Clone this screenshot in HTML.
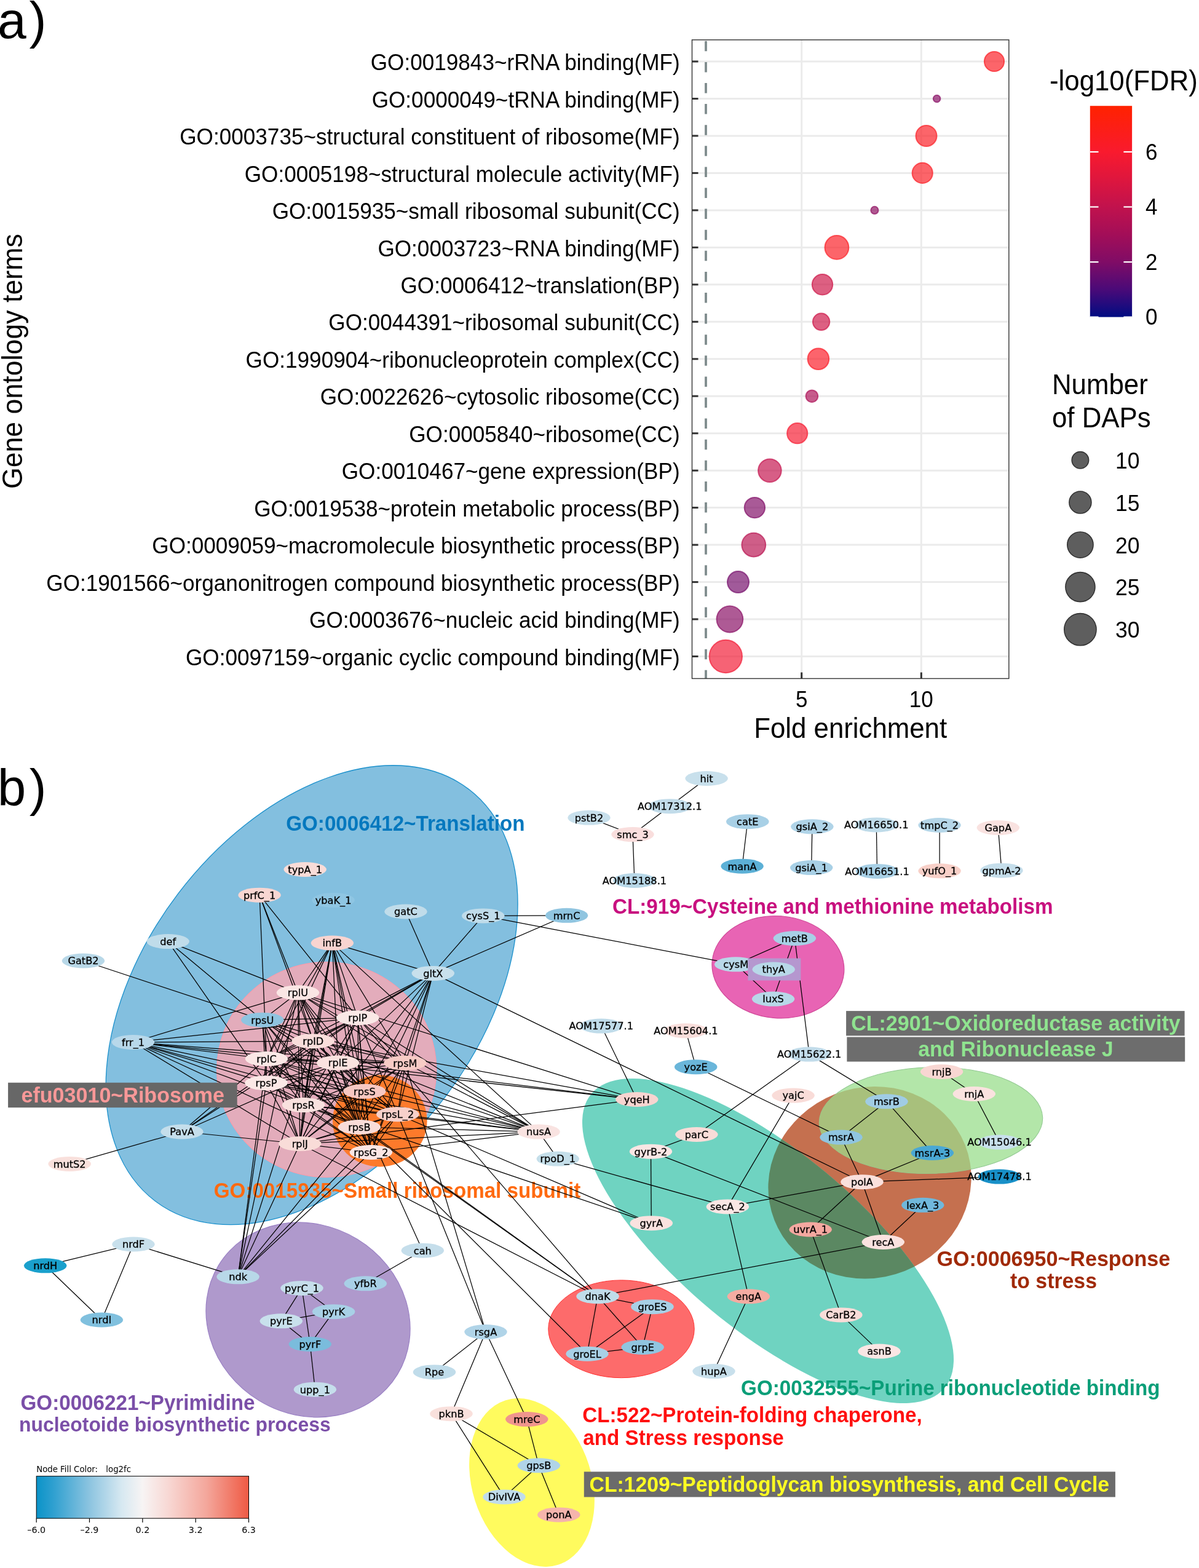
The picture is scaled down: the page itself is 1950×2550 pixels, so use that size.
<!DOCTYPE html>
<html><head><meta charset="utf-8"><title>Figure</title>
<style>html,body{margin:0;padding:0;background:#fff;} svg{display:block;}</style></head>
<body><svg xmlns="http://www.w3.org/2000/svg" width="1950" height="2550" viewBox="0 0 1950 2550">
<rect width="1950" height="2550" fill="#fff"/>
<text x="-4" y="61.7" font-size="84" letter-spacing="4.8" font-family="'Liberation Sans', Arial, sans-serif">a)</text>
<rect x="1125.5" y="64.8" width="515.3" height="1038.7" fill="#fff"/>
<line x1="1125.5" y1="100.0" x2="1640.8" y2="100.0" stroke="#ebebeb" stroke-width="3"/>
<line x1="1125.5" y1="160.5" x2="1640.8" y2="160.5" stroke="#ebebeb" stroke-width="3"/>
<line x1="1125.5" y1="220.9" x2="1640.8" y2="220.9" stroke="#ebebeb" stroke-width="3"/>
<line x1="1125.5" y1="281.4" x2="1640.8" y2="281.4" stroke="#ebebeb" stroke-width="3"/>
<line x1="1125.5" y1="341.9" x2="1640.8" y2="341.9" stroke="#ebebeb" stroke-width="3"/>
<line x1="1125.5" y1="402.4" x2="1640.8" y2="402.4" stroke="#ebebeb" stroke-width="3"/>
<line x1="1125.5" y1="462.8" x2="1640.8" y2="462.8" stroke="#ebebeb" stroke-width="3"/>
<line x1="1125.5" y1="523.3" x2="1640.8" y2="523.3" stroke="#ebebeb" stroke-width="3"/>
<line x1="1125.5" y1="583.8" x2="1640.8" y2="583.8" stroke="#ebebeb" stroke-width="3"/>
<line x1="1125.5" y1="644.2" x2="1640.8" y2="644.2" stroke="#ebebeb" stroke-width="3"/>
<line x1="1125.5" y1="704.7" x2="1640.8" y2="704.7" stroke="#ebebeb" stroke-width="3"/>
<line x1="1125.5" y1="765.2" x2="1640.8" y2="765.2" stroke="#ebebeb" stroke-width="3"/>
<line x1="1125.5" y1="825.6" x2="1640.8" y2="825.6" stroke="#ebebeb" stroke-width="3"/>
<line x1="1125.5" y1="886.1" x2="1640.8" y2="886.1" stroke="#ebebeb" stroke-width="3"/>
<line x1="1125.5" y1="946.6" x2="1640.8" y2="946.6" stroke="#ebebeb" stroke-width="3"/>
<line x1="1125.5" y1="1007.0" x2="1640.8" y2="1007.0" stroke="#ebebeb" stroke-width="3"/>
<line x1="1125.5" y1="1067.5" x2="1640.8" y2="1067.5" stroke="#ebebeb" stroke-width="3"/>
<line x1="1303.7" y1="64.8" x2="1303.7" y2="1103.5" stroke="#ebebeb" stroke-width="3"/>
<line x1="1498.3" y1="64.8" x2="1498.3" y2="1103.5" stroke="#ebebeb" stroke-width="3"/>
<line x1="1148" y1="66.8" x2="1148" y2="1103.5" stroke="#7f8c8d" stroke-width="3.8" stroke-dasharray="16.5 17.6"/>
<circle cx="1617.0" cy="100.0" r="16.1" fill="#fa1c23" fill-opacity="0.68" stroke="#fa1c23" stroke-opacity="0.68" stroke-width="2"/>
<circle cx="1523.6" cy="160.5" r="5.8" fill="#870c63" fill-opacity="0.68" stroke="#870c63" stroke-opacity="0.68" stroke-width="2"/>
<circle cx="1506.5" cy="220.9" r="17.0" fill="#fa1c23" fill-opacity="0.68" stroke="#fa1c23" stroke-opacity="0.68" stroke-width="2"/>
<circle cx="1500.2" cy="281.4" r="16.6" fill="#fa1c23" fill-opacity="0.68" stroke="#fa1c23" stroke-opacity="0.68" stroke-width="2"/>
<circle cx="1422.4" cy="341.9" r="6.1" fill="#8e0d60" fill-opacity="0.68" stroke="#8e0d60" stroke-opacity="0.68" stroke-width="2"/>
<circle cx="1360.9" cy="402.4" r="19.4" fill="#fa1c23" fill-opacity="0.68" stroke="#fa1c23" stroke-opacity="0.68" stroke-width="2"/>
<circle cx="1337.5" cy="462.8" r="16.7" fill="#cd1447" fill-opacity="0.68" stroke="#cd1447" stroke-opacity="0.68" stroke-width="2"/>
<circle cx="1335.6" cy="523.3" r="13.7" fill="#cd1447" fill-opacity="0.68" stroke="#cd1447" stroke-opacity="0.68" stroke-width="2"/>
<circle cx="1330.9" cy="583.8" r="17.3" fill="#fa1b26" fill-opacity="0.68" stroke="#fa1b26" stroke-opacity="0.68" stroke-width="2"/>
<circle cx="1320.4" cy="644.2" r="9.8" fill="#ac0f55" fill-opacity="0.68" stroke="#ac0f55" stroke-opacity="0.68" stroke-width="2"/>
<circle cx="1296.7" cy="704.7" r="16.6" fill="#f61a30" fill-opacity="0.68" stroke="#f61a30" stroke-opacity="0.68" stroke-width="2"/>
<circle cx="1251.9" cy="765.2" r="18.8" fill="#c4124c" fill-opacity="0.68" stroke="#c4124c" stroke-opacity="0.68" stroke-width="2"/>
<circle cx="1227.4" cy="825.6" r="16.7" fill="#800c66" fill-opacity="0.68" stroke="#800c66" stroke-opacity="0.68" stroke-width="2"/>
<circle cx="1225.8" cy="886.1" r="19.4" fill="#b81150" fill-opacity="0.68" stroke="#b81150" stroke-opacity="0.68" stroke-width="2"/>
<circle cx="1200.5" cy="946.6" r="17.5" fill="#750c6a" fill-opacity="0.68" stroke="#750c6a" stroke-opacity="0.68" stroke-width="2"/>
<circle cx="1186.9" cy="1007.0" r="21.4" fill="#870c63" fill-opacity="0.68" stroke="#870c63" stroke-opacity="0.68" stroke-width="2"/>
<circle cx="1180.3" cy="1067.5" r="26.7" fill="#f11933" fill-opacity="0.68" stroke="#f11933" stroke-opacity="0.68" stroke-width="2"/>
<rect x="1125.5" y="64.8" width="515.3" height="1038.7" fill="none" stroke="#333" stroke-width="1.4"/>
<line x1="1125.5" y1="100.0" x2="1135.5" y2="100.0" stroke="#333" stroke-width="3"/>
<line x1="1125.5" y1="160.5" x2="1135.5" y2="160.5" stroke="#333" stroke-width="3"/>
<line x1="1125.5" y1="220.9" x2="1135.5" y2="220.9" stroke="#333" stroke-width="3"/>
<line x1="1125.5" y1="281.4" x2="1135.5" y2="281.4" stroke="#333" stroke-width="3"/>
<line x1="1125.5" y1="341.9" x2="1135.5" y2="341.9" stroke="#333" stroke-width="3"/>
<line x1="1125.5" y1="402.4" x2="1135.5" y2="402.4" stroke="#333" stroke-width="3"/>
<line x1="1125.5" y1="462.8" x2="1135.5" y2="462.8" stroke="#333" stroke-width="3"/>
<line x1="1125.5" y1="523.3" x2="1135.5" y2="523.3" stroke="#333" stroke-width="3"/>
<line x1="1125.5" y1="583.8" x2="1135.5" y2="583.8" stroke="#333" stroke-width="3"/>
<line x1="1125.5" y1="644.2" x2="1135.5" y2="644.2" stroke="#333" stroke-width="3"/>
<line x1="1125.5" y1="704.7" x2="1135.5" y2="704.7" stroke="#333" stroke-width="3"/>
<line x1="1125.5" y1="765.2" x2="1135.5" y2="765.2" stroke="#333" stroke-width="3"/>
<line x1="1125.5" y1="825.6" x2="1135.5" y2="825.6" stroke="#333" stroke-width="3"/>
<line x1="1125.5" y1="886.1" x2="1135.5" y2="886.1" stroke="#333" stroke-width="3"/>
<line x1="1125.5" y1="946.6" x2="1135.5" y2="946.6" stroke="#333" stroke-width="3"/>
<line x1="1125.5" y1="1007.0" x2="1135.5" y2="1007.0" stroke="#333" stroke-width="3"/>
<line x1="1125.5" y1="1067.5" x2="1135.5" y2="1067.5" stroke="#333" stroke-width="3"/>
<line x1="1303.7" y1="1103.5" x2="1303.7" y2="1093.5" stroke="#333" stroke-width="3"/>
<line x1="1498.3" y1="1103.5" x2="1498.3" y2="1093.5" stroke="#333" stroke-width="3"/>
<text transform="translate(1105.60,114.20) scale(1,1.04)" font-size="35.15" text-anchor="end" font-family="'Liberation Sans', Arial, sans-serif">GO:0019843~rRNA binding(MF)</text>
<text transform="translate(1105.60,174.67) scale(1,1.04)" font-size="35.15" text-anchor="end" font-family="'Liberation Sans', Arial, sans-serif">GO:0000049~tRNA binding(MF)</text>
<text transform="translate(1105.60,235.14) scale(1,1.04)" font-size="35.15" text-anchor="end" font-family="'Liberation Sans', Arial, sans-serif">GO:0003735~structural constituent of ribosome(MF)</text>
<text transform="translate(1105.60,295.61) scale(1,1.04)" font-size="35.15" text-anchor="end" font-family="'Liberation Sans', Arial, sans-serif">GO:0005198~structural molecule activity(MF)</text>
<text transform="translate(1105.60,356.08) scale(1,1.04)" font-size="35.15" text-anchor="end" font-family="'Liberation Sans', Arial, sans-serif">GO:0015935~small ribosomal subunit(CC)</text>
<text transform="translate(1105.60,416.55) scale(1,1.04)" font-size="35.15" text-anchor="end" font-family="'Liberation Sans', Arial, sans-serif">GO:0003723~RNA binding(MF)</text>
<text transform="translate(1105.60,477.02) scale(1,1.04)" font-size="35.15" text-anchor="end" font-family="'Liberation Sans', Arial, sans-serif">GO:0006412~translation(BP)</text>
<text transform="translate(1105.60,537.49) scale(1,1.04)" font-size="35.15" text-anchor="end" font-family="'Liberation Sans', Arial, sans-serif">GO:0044391~ribosomal subunit(CC)</text>
<text transform="translate(1105.60,597.96) scale(1,1.04)" font-size="35.15" text-anchor="end" font-family="'Liberation Sans', Arial, sans-serif">GO:1990904~ribonucleoprotein complex(CC)</text>
<text transform="translate(1105.60,658.43) scale(1,1.04)" font-size="35.15" text-anchor="end" font-family="'Liberation Sans', Arial, sans-serif">GO:0022626~cytosolic ribosome(CC)</text>
<text transform="translate(1105.60,718.90) scale(1,1.04)" font-size="35.15" text-anchor="end" font-family="'Liberation Sans', Arial, sans-serif">GO:0005840~ribosome(CC)</text>
<text transform="translate(1105.60,779.37) scale(1,1.04)" font-size="35.15" text-anchor="end" font-family="'Liberation Sans', Arial, sans-serif">GO:0010467~gene expression(BP)</text>
<text transform="translate(1105.60,839.84) scale(1,1.04)" font-size="35.15" text-anchor="end" font-family="'Liberation Sans', Arial, sans-serif">GO:0019538~protein metabolic process(BP)</text>
<text transform="translate(1105.60,900.31) scale(1,1.04)" font-size="35.15" text-anchor="end" font-family="'Liberation Sans', Arial, sans-serif">GO:0009059~macromolecule biosynthetic process(BP)</text>
<text transform="translate(1105.60,960.78) scale(1,1.04)" font-size="35.15" text-anchor="end" font-family="'Liberation Sans', Arial, sans-serif">GO:1901566~organonitrogen compound biosynthetic process(BP)</text>
<text transform="translate(1105.60,1021.25) scale(1,1.04)" font-size="35.15" text-anchor="end" font-family="'Liberation Sans', Arial, sans-serif">GO:0003676~nucleic acid binding(MF)</text>
<text transform="translate(1105.60,1081.72) scale(1,1.04)" font-size="35.15" text-anchor="end" font-family="'Liberation Sans', Arial, sans-serif">GO:0097159~organic cyclic compound binding(MF)</text>
<text transform="translate(1303.68,1149.60) scale(1,1.04)" font-size="35" text-anchor="middle" font-family="'Liberation Sans', Arial, sans-serif">5</text>
<text transform="translate(1498.28,1149.60) scale(1,1.04)" font-size="35" text-anchor="middle" font-family="'Liberation Sans', Arial, sans-serif">10</text>
<text transform="translate(1383.15,1200.20) scale(1,1.04)" font-size="43.8" text-anchor="middle" font-family="'Liberation Sans', Arial, sans-serif">Fold enrichment</text>
<text transform="translate(36,587.7) rotate(-90) scale(1,1.04)" font-size="44.7" text-anchor="middle" font-family="'Liberation Sans', Arial, sans-serif">Gene ontology terms</text>
<text transform="translate(1707.00,147.00) scale(1,1.04)" font-size="43.8" text-anchor="start" font-family="'Liberation Sans', Arial, sans-serif">-log10(FDR)</text>
<defs><linearGradient id="cb" x1="0" y1="1" x2="0" y2="0"><stop offset="0.0000" stop-color="#000c82"/><stop offset="0.1304" stop-color="#4a0a78"/><stop offset="0.2608" stop-color="#800c66"/><stop offset="0.3911" stop-color="#a30e58"/><stop offset="0.5215" stop-color="#c1124d"/><stop offset="0.6519" stop-color="#de163e"/><stop offset="0.7823" stop-color="#f91a2e"/><stop offset="1.0000" stop-color="#ff2200"/></linearGradient>
<linearGradient id="nfc" x1="0" y1="0" x2="1" y2="0"><stop offset="0" stop-color="#0a93c8"/><stop offset="0.08" stop-color="#2fa0d0"/><stop offset="0.25" stop-color="#8cc4e0"/><stop offset="0.40" stop-color="#d6e8f1"/><stop offset="0.50" stop-color="#f7f4f4"/><stop offset="0.62" stop-color="#f8d8d4"/><stop offset="0.80" stop-color="#f4a79c"/><stop offset="1" stop-color="#ef5a44"/></linearGradient></defs>
<rect x="1772.8" y="172.2" width="68.3" height="343.4" fill="url(#cb)"/>
<line x1="1772.8" y1="515.6" x2="1786.5" y2="515.6" stroke="#fff" stroke-width="2.2"/>
<line x1="1827.4" y1="515.6" x2="1841.1" y2="515.6" stroke="#fff" stroke-width="2.2"/>
<text transform="translate(1863.00,528.30) scale(1,1.04)" font-size="35" text-anchor="start" font-family="'Liberation Sans', Arial, sans-serif">0</text>
<line x1="1772.8" y1="426.1" x2="1786.5" y2="426.1" stroke="#fff" stroke-width="2.2"/>
<line x1="1827.4" y1="426.1" x2="1841.1" y2="426.1" stroke="#fff" stroke-width="2.2"/>
<text transform="translate(1863.00,438.76) scale(1,1.04)" font-size="35" text-anchor="start" font-family="'Liberation Sans', Arial, sans-serif">2</text>
<line x1="1772.8" y1="336.5" x2="1786.5" y2="336.5" stroke="#fff" stroke-width="2.2"/>
<line x1="1827.4" y1="336.5" x2="1841.1" y2="336.5" stroke="#fff" stroke-width="2.2"/>
<text transform="translate(1863.00,349.21) scale(1,1.04)" font-size="35" text-anchor="start" font-family="'Liberation Sans', Arial, sans-serif">4</text>
<line x1="1772.8" y1="247.0" x2="1786.5" y2="247.0" stroke="#fff" stroke-width="2.2"/>
<line x1="1827.4" y1="247.0" x2="1841.1" y2="247.0" stroke="#fff" stroke-width="2.2"/>
<text transform="translate(1863.00,259.67) scale(1,1.04)" font-size="35" text-anchor="start" font-family="'Liberation Sans', Arial, sans-serif">6</text>
<text transform="translate(1711.00,640.60) scale(1,1.04)" font-size="43.8" text-anchor="start" font-family="'Liberation Sans', Arial, sans-serif">Number</text>
<text transform="translate(1711.00,694.80) scale(1,1.04)" font-size="43.8" text-anchor="start" font-family="'Liberation Sans', Arial, sans-serif">of DAPs</text>
<circle cx="1756.9" cy="748.3" r="13.7" fill="#5e5e5e" stroke="#333" stroke-width="1.6"/>
<text transform="translate(1814.00,761.90) scale(1,1.04)" font-size="35.5" text-anchor="start" font-family="'Liberation Sans', Arial, sans-serif">10</text>
<circle cx="1756.9" cy="817" r="18" fill="#5e5e5e" stroke="#333" stroke-width="1.6"/>
<text transform="translate(1814.00,830.60) scale(1,1.04)" font-size="35.5" text-anchor="start" font-family="'Liberation Sans', Arial, sans-serif">15</text>
<circle cx="1756.9" cy="886.1" r="21.1" fill="#5e5e5e" stroke="#333" stroke-width="1.6"/>
<text transform="translate(1814.00,899.70) scale(1,1.04)" font-size="35.5" text-anchor="start" font-family="'Liberation Sans', Arial, sans-serif">20</text>
<circle cx="1756.9" cy="954.6" r="24" fill="#5e5e5e" stroke="#333" stroke-width="1.6"/>
<text transform="translate(1814.00,968.20) scale(1,1.04)" font-size="35.5" text-anchor="start" font-family="'Liberation Sans', Arial, sans-serif">25</text>
<circle cx="1756.9" cy="1023.7" r="26.1" fill="#5e5e5e" stroke="#333" stroke-width="1.6"/>
<text transform="translate(1814.00,1037.30) scale(1,1.04)" font-size="35.5" text-anchor="start" font-family="'Liberation Sans', Arial, sans-serif">30</text>
<text x="-3.9" y="1310.2" font-size="83" letter-spacing="5.5" font-family="'Liberation Sans', Arial, sans-serif">b)</text>
<defs>
<clipPath id="cpBrown"><ellipse cx="1414.5" cy="1923.2" rx="166.7" ry="154.6" transform="rotate(-21.6 1414.5 1923.2)"/></clipPath>
<clipPath id="cpTeal"><ellipse cx="1249" cy="2018" rx="373.8" ry="145.6" transform="rotate(39.77 1249 2018)"/></clipPath>
</defs>
<ellipse cx="507.1" cy="1618.2" rx="420.9" ry="272.9" transform="rotate(-52.7 507.1 1618.2)" fill="#83bfdf" stroke="#1a90cc" stroke-width="1.3"/>
<ellipse cx="531.2" cy="1739.5" rx="178.5" ry="175" transform="rotate(0 531.2 1739.5)" fill="#f5a8b4" fill-opacity="0.84" stroke="#ff9aa8" stroke-width="1.2"/>
<ellipse cx="617.8" cy="1822.9" rx="76.8" ry="74.6" transform="rotate(0 617.8 1822.9)" fill="#fd7a2b"/>
<ellipse cx="501" cy="2146.4" rx="170.4" ry="153.7" transform="rotate(31.4 501 2146.4)" fill="#af99cc" stroke="#9a80c4" stroke-width="1.2"/>
<ellipse cx="1265.4" cy="1572.7" rx="107.6" ry="83.0" transform="rotate(5 1265.4 1572.7)" fill="#e864b4" stroke="#d04898" stroke-width="1.2"/>
<ellipse cx="1414.5" cy="1923.2" rx="166.7" ry="154.6" transform="rotate(-21.6 1414.5 1923.2)" fill="#c5704f"/>
<ellipse cx="1249" cy="2018" rx="373.8" ry="145.6" transform="rotate(39.77 1249 2018)" fill="#6fd3c1"/>
<g clip-path="url(#cpBrown)"><ellipse cx="1249" cy="2018" rx="373.8" ry="145.6" transform="rotate(39.77 1249 2018)" fill="#5b8862"/></g>
<ellipse cx="1514" cy="1822" rx="181.8" ry="86.4" transform="rotate(-1.4 1514 1822)" fill="#b3e6a9" stroke="#90c890" stroke-width="1"/>
<g clip-path="url(#cpBrown)"><ellipse cx="1514" cy="1822" rx="181.8" ry="86.4" transform="rotate(-1.4 1514 1822)" fill="#a8c07c"/></g>
<ellipse cx="1010.5" cy="2161.3" rx="118.7" ry="79.4" transform="rotate(0 1010.5 2161.3)" fill="#fd6b6b" stroke="#ff3030" stroke-width="1"/>
<ellipse cx="865" cy="2411" rx="140.4" ry="97.1" transform="rotate(72.3 865 2411)" fill="#fffb5e"/>
<text transform="translate(465.2,1351.25) scale(1,1.04)" font-family="'Liberation Sans', Arial, sans-serif" font-weight="bold" font-size="33.2" fill="#0578be" text-anchor="start">GO:0006412~Translation</text>
<text transform="translate(996,1485.7) scale(1,1.04)" font-family="'Liberation Sans', Arial, sans-serif" font-weight="bold" font-size="33.2" fill="#c8107f" text-anchor="start">CL:919~Cysteine and methionine metabolism</text>
<rect x="1376.1" y="1644.1" width="550.5" height="40.3" fill="#6d6d6d"/>
<rect x="1377.4" y="1686.5" width="549.8" height="40" fill="#6d6d6d"/>
<text transform="translate(1652,1676) scale(1,1.04)" font-family="'Liberation Sans', Arial, sans-serif" font-weight="bold" font-size="34.0" fill="#8fe38f" text-anchor="middle">CL:2901~Oxidoreductase activity</text>
<text transform="translate(1651.8,1718.1) scale(1,1.04)" font-family="'Liberation Sans', Arial, sans-serif" font-weight="bold" font-size="33.8" fill="#8fe38f" text-anchor="middle">and Ribonuclease J</text>
<text transform="translate(347.7,1947.5) scale(1,1.04)" font-family="'Liberation Sans', Arial, sans-serif" font-weight="bold" font-size="33.2" fill="#ff6a10" text-anchor="start">GO:0015935~Small ribosomal subunit</text>
<text transform="translate(1523.4,2058.75) scale(1,1.04)" font-family="'Liberation Sans', Arial, sans-serif" font-weight="bold" font-size="34.1" fill="#a02a08" text-anchor="start">GO:0006950~Response</text>
<text transform="translate(1713.5,2094.5) scale(1,1.04)" font-family="'Liberation Sans', Arial, sans-serif" font-weight="bold" font-size="33.8" fill="#a02a08" text-anchor="middle">to stress</text>
<text transform="translate(1205.1,2268.9) scale(1,1.04)" font-family="'Liberation Sans', Arial, sans-serif" font-weight="bold" font-size="33.2" fill="#0a9e78" text-anchor="start">GO:0032555~Purine ribonucleotide binding</text>
<text transform="translate(947.3,2313.4) scale(1,1.04)" font-family="'Liberation Sans', Arial, sans-serif" font-weight="bold" font-size="33.2" fill="#ff1010" text-anchor="start">CL:522~Protein-folding chaperone,</text>
<text transform="translate(948.3,2349.5) scale(1,1.04)" font-family="'Liberation Sans', Arial, sans-serif" font-weight="bold" font-size="33.2" fill="#ff1010" text-anchor="start">and Stress response</text>
<rect x="949.8" y="2393.4" width="864.1" height="41.2" fill="#6b6b6b"/>
<text transform="translate(1381.3,2425.5) scale(1,1.04)" font-family="'Liberation Sans', Arial, sans-serif" font-weight="bold" font-size="33.7" fill="#ffff22" text-anchor="middle">CL:1209~Peptidoglycan biosynthesis, and Cell Cycle</text>
<text transform="translate(33.5,2292.8) scale(1,1.04)" font-family="'Liberation Sans', Arial, sans-serif" font-weight="bold" font-size="33.2" fill="#7b4fa8" text-anchor="start">GO:0006221~Pyrimidine</text>
<text transform="translate(31.0,2327.5) scale(1,1.04)" font-family="'Liberation Sans', Arial, sans-serif" font-weight="bold" font-size="31.9" fill="#7b4fa8" text-anchor="start">nucleotoide biosynthetic process</text>
<g stroke="#000" stroke-width="1.25" fill="none">
<line x1="484.5" y1="1614.3" x2="426.8" y2="1658.7"/>
<line x1="484.5" y1="1614.3" x2="581.8" y2="1655.2"/>
<line x1="484.5" y1="1614.3" x2="509.2" y2="1693.2"/>
<line x1="484.5" y1="1614.3" x2="433.5" y2="1722"/>
<line x1="484.5" y1="1614.3" x2="549.6" y2="1728.6"/>
<line x1="484.5" y1="1614.3" x2="658.9" y2="1728.7"/>
<line x1="484.5" y1="1614.3" x2="433" y2="1761.2"/>
<line x1="484.5" y1="1614.3" x2="592.9" y2="1774.8"/>
<line x1="484.5" y1="1614.3" x2="493.5" y2="1797.1"/>
<line x1="484.5" y1="1614.3" x2="646.8" y2="1812.2"/>
<line x1="484.5" y1="1614.3" x2="584.4" y2="1833"/>
<line x1="484.5" y1="1614.3" x2="487.8" y2="1860"/>
<line x1="484.5" y1="1614.3" x2="603.4" y2="1874"/>
<line x1="426.8" y1="1658.7" x2="581.8" y2="1655.2"/>
<line x1="426.8" y1="1658.7" x2="509.2" y2="1693.2"/>
<line x1="426.8" y1="1658.7" x2="433.5" y2="1722"/>
<line x1="426.8" y1="1658.7" x2="549.6" y2="1728.6"/>
<line x1="426.8" y1="1658.7" x2="658.9" y2="1728.7"/>
<line x1="426.8" y1="1658.7" x2="433" y2="1761.2"/>
<line x1="426.8" y1="1658.7" x2="592.9" y2="1774.8"/>
<line x1="426.8" y1="1658.7" x2="493.5" y2="1797.1"/>
<line x1="426.8" y1="1658.7" x2="646.8" y2="1812.2"/>
<line x1="426.8" y1="1658.7" x2="584.4" y2="1833"/>
<line x1="426.8" y1="1658.7" x2="487.8" y2="1860"/>
<line x1="426.8" y1="1658.7" x2="603.4" y2="1874"/>
<line x1="581.8" y1="1655.2" x2="509.2" y2="1693.2"/>
<line x1="581.8" y1="1655.2" x2="433.5" y2="1722"/>
<line x1="581.8" y1="1655.2" x2="549.6" y2="1728.6"/>
<line x1="581.8" y1="1655.2" x2="658.9" y2="1728.7"/>
<line x1="581.8" y1="1655.2" x2="433" y2="1761.2"/>
<line x1="581.8" y1="1655.2" x2="592.9" y2="1774.8"/>
<line x1="581.8" y1="1655.2" x2="493.5" y2="1797.1"/>
<line x1="581.8" y1="1655.2" x2="646.8" y2="1812.2"/>
<line x1="581.8" y1="1655.2" x2="584.4" y2="1833"/>
<line x1="581.8" y1="1655.2" x2="487.8" y2="1860"/>
<line x1="581.8" y1="1655.2" x2="603.4" y2="1874"/>
<line x1="509.2" y1="1693.2" x2="433.5" y2="1722"/>
<line x1="509.2" y1="1693.2" x2="549.6" y2="1728.6"/>
<line x1="509.2" y1="1693.2" x2="658.9" y2="1728.7"/>
<line x1="509.2" y1="1693.2" x2="433" y2="1761.2"/>
<line x1="509.2" y1="1693.2" x2="592.9" y2="1774.8"/>
<line x1="509.2" y1="1693.2" x2="493.5" y2="1797.1"/>
<line x1="509.2" y1="1693.2" x2="646.8" y2="1812.2"/>
<line x1="509.2" y1="1693.2" x2="584.4" y2="1833"/>
<line x1="509.2" y1="1693.2" x2="487.8" y2="1860"/>
<line x1="509.2" y1="1693.2" x2="603.4" y2="1874"/>
<line x1="433.5" y1="1722" x2="549.6" y2="1728.6"/>
<line x1="433.5" y1="1722" x2="658.9" y2="1728.7"/>
<line x1="433.5" y1="1722" x2="433" y2="1761.2"/>
<line x1="433.5" y1="1722" x2="592.9" y2="1774.8"/>
<line x1="433.5" y1="1722" x2="493.5" y2="1797.1"/>
<line x1="433.5" y1="1722" x2="646.8" y2="1812.2"/>
<line x1="433.5" y1="1722" x2="584.4" y2="1833"/>
<line x1="433.5" y1="1722" x2="487.8" y2="1860"/>
<line x1="433.5" y1="1722" x2="603.4" y2="1874"/>
<line x1="549.6" y1="1728.6" x2="658.9" y2="1728.7"/>
<line x1="549.6" y1="1728.6" x2="433" y2="1761.2"/>
<line x1="549.6" y1="1728.6" x2="592.9" y2="1774.8"/>
<line x1="549.6" y1="1728.6" x2="493.5" y2="1797.1"/>
<line x1="549.6" y1="1728.6" x2="646.8" y2="1812.2"/>
<line x1="549.6" y1="1728.6" x2="584.4" y2="1833"/>
<line x1="549.6" y1="1728.6" x2="487.8" y2="1860"/>
<line x1="549.6" y1="1728.6" x2="603.4" y2="1874"/>
<line x1="658.9" y1="1728.7" x2="433" y2="1761.2"/>
<line x1="658.9" y1="1728.7" x2="592.9" y2="1774.8"/>
<line x1="658.9" y1="1728.7" x2="493.5" y2="1797.1"/>
<line x1="658.9" y1="1728.7" x2="646.8" y2="1812.2"/>
<line x1="658.9" y1="1728.7" x2="584.4" y2="1833"/>
<line x1="658.9" y1="1728.7" x2="487.8" y2="1860"/>
<line x1="658.9" y1="1728.7" x2="603.4" y2="1874"/>
<line x1="433" y1="1761.2" x2="592.9" y2="1774.8"/>
<line x1="433" y1="1761.2" x2="493.5" y2="1797.1"/>
<line x1="433" y1="1761.2" x2="646.8" y2="1812.2"/>
<line x1="433" y1="1761.2" x2="584.4" y2="1833"/>
<line x1="433" y1="1761.2" x2="487.8" y2="1860"/>
<line x1="433" y1="1761.2" x2="603.4" y2="1874"/>
<line x1="592.9" y1="1774.8" x2="493.5" y2="1797.1"/>
<line x1="592.9" y1="1774.8" x2="646.8" y2="1812.2"/>
<line x1="592.9" y1="1774.8" x2="584.4" y2="1833"/>
<line x1="592.9" y1="1774.8" x2="487.8" y2="1860"/>
<line x1="592.9" y1="1774.8" x2="603.4" y2="1874"/>
<line x1="493.5" y1="1797.1" x2="646.8" y2="1812.2"/>
<line x1="493.5" y1="1797.1" x2="584.4" y2="1833"/>
<line x1="493.5" y1="1797.1" x2="487.8" y2="1860"/>
<line x1="493.5" y1="1797.1" x2="603.4" y2="1874"/>
<line x1="646.8" y1="1812.2" x2="584.4" y2="1833"/>
<line x1="646.8" y1="1812.2" x2="487.8" y2="1860"/>
<line x1="646.8" y1="1812.2" x2="603.4" y2="1874"/>
<line x1="584.4" y1="1833" x2="487.8" y2="1860"/>
<line x1="584.4" y1="1833" x2="603.4" y2="1874"/>
<line x1="487.8" y1="1860" x2="603.4" y2="1874"/>
<line x1="540.4" y1="1533.6" x2="484.5" y2="1614.3"/>
<line x1="540.4" y1="1533.6" x2="433.5" y2="1722"/>
<line x1="540.4" y1="1533.6" x2="433" y2="1761.2"/>
<line x1="540.4" y1="1533.6" x2="509.2" y2="1693.2"/>
<line x1="540.4" y1="1533.6" x2="493.5" y2="1797.1"/>
<line x1="540.4" y1="1533.6" x2="487.8" y2="1860"/>
<line x1="540.4" y1="1533.6" x2="549.6" y2="1728.6"/>
<line x1="540.4" y1="1533.6" x2="592.9" y2="1774.8"/>
<line x1="540.4" y1="1533.6" x2="584.4" y2="1833"/>
<line x1="540.4" y1="1533.6" x2="603.4" y2="1874"/>
<line x1="540.4" y1="1533.6" x2="581.8" y2="1655.2"/>
<line x1="540.4" y1="1533.6" x2="658.9" y2="1728.7"/>
<line x1="540.4" y1="1533.6" x2="876.1" y2="1840.6"/>
<line x1="540.4" y1="1533.6" x2="704.3" y2="1582.9"/>
<line x1="422.1" y1="1455.7" x2="433.5" y2="1722"/>
<line x1="422.1" y1="1455.7" x2="484.5" y2="1614.3"/>
<line x1="422.1" y1="1455.7" x2="509.2" y2="1693.2"/>
<line x1="422.1" y1="1455.7" x2="581.8" y2="1655.2"/>
<line x1="704.3" y1="1582.9" x2="549.6" y2="1728.6"/>
<line x1="704.3" y1="1582.9" x2="487.8" y2="1860"/>
<line x1="704.3" y1="1582.9" x2="592.9" y2="1774.8"/>
<line x1="704.3" y1="1582.9" x2="584.4" y2="1833"/>
<line x1="704.3" y1="1582.9" x2="658.9" y2="1728.7"/>
<line x1="704.3" y1="1582.9" x2="603.4" y2="1874"/>
<line x1="704.3" y1="1582.9" x2="646.8" y2="1812.2"/>
<line x1="704.3" y1="1582.9" x2="433.5" y2="1722"/>
<line x1="704.3" y1="1582.9" x2="509.2" y2="1693.2"/>
<line x1="704.3" y1="1582.9" x2="581.8" y2="1655.2"/>
<line x1="704.3" y1="1582.9" x2="660" y2="1482.5"/>
<line x1="704.3" y1="1582.9" x2="785.8" y2="1489.4"/>
<line x1="704.3" y1="1582.9" x2="921.6" y2="1488.8"/>
<line x1="704.3" y1="1582.9" x2="1402" y2="1922.2"/>
<line x1="785.8" y1="1489.4" x2="921.6" y2="1488.8"/>
<line x1="785.8" y1="1489.4" x2="1196.7" y2="1568.3"/>
<line x1="273.2" y1="1531.1" x2="426.8" y2="1658.7"/>
<line x1="273.2" y1="1531.1" x2="484.5" y2="1614.3"/>
<line x1="273.2" y1="1531.1" x2="433" y2="1761.2"/>
<line x1="135.5" y1="1562.5" x2="426.8" y2="1658.7"/>
<line x1="216.5" y1="1695" x2="484.5" y2="1614.3"/>
<line x1="216.5" y1="1695" x2="581.8" y2="1655.2"/>
<line x1="216.5" y1="1695" x2="509.2" y2="1693.2"/>
<line x1="216.5" y1="1695" x2="658.9" y2="1728.7"/>
<line x1="216.5" y1="1695" x2="549.6" y2="1728.6"/>
<line x1="216.5" y1="1695" x2="433.5" y2="1722"/>
<line x1="216.5" y1="1695" x2="592.9" y2="1774.8"/>
<line x1="216.5" y1="1695" x2="646.8" y2="1812.2"/>
<line x1="216.5" y1="1695" x2="433" y2="1761.2"/>
<line x1="216.5" y1="1695" x2="493.5" y2="1797.1"/>
<line x1="216.5" y1="1695" x2="487.8" y2="1860"/>
<line x1="216.5" y1="1695" x2="603.4" y2="1874"/>
<line x1="296" y1="1840.5" x2="433.5" y2="1722"/>
<line x1="296" y1="1840.5" x2="509.2" y2="1693.2"/>
<line x1="296" y1="1840.5" x2="581.8" y2="1655.2"/>
<line x1="296" y1="1840.5" x2="549.6" y2="1728.6"/>
<line x1="296" y1="1840.5" x2="487.8" y2="1860"/>
<line x1="296" y1="1840.5" x2="113.2" y2="1892.9"/>
<line x1="876.1" y1="1840.6" x2="509.2" y2="1693.2"/>
<line x1="876.1" y1="1840.6" x2="549.6" y2="1728.6"/>
<line x1="876.1" y1="1840.6" x2="433.5" y2="1722"/>
<line x1="876.1" y1="1840.6" x2="592.9" y2="1774.8"/>
<line x1="876.1" y1="1840.6" x2="433" y2="1761.2"/>
<line x1="876.1" y1="1840.6" x2="646.8" y2="1812.2"/>
<line x1="876.1" y1="1840.6" x2="493.5" y2="1797.1"/>
<line x1="876.1" y1="1840.6" x2="584.4" y2="1833"/>
<line x1="876.1" y1="1840.6" x2="487.8" y2="1860"/>
<line x1="876.1" y1="1840.6" x2="603.4" y2="1874"/>
<line x1="876.1" y1="1840.6" x2="658.9" y2="1728.7"/>
<line x1="876.1" y1="1840.6" x2="484.5" y2="1614.3"/>
<line x1="876.1" y1="1840.6" x2="581.8" y2="1655.2"/>
<line x1="876.1" y1="1840.6" x2="907.3" y2="1884.6"/>
<line x1="1035.8" y1="1788" x2="484.5" y2="1614.3"/>
<line x1="1035.8" y1="1788" x2="509.2" y2="1693.2"/>
<line x1="1035.8" y1="1788" x2="549.6" y2="1728.6"/>
<line x1="1035.8" y1="1788" x2="433.5" y2="1722"/>
<line x1="1035.8" y1="1788" x2="487.8" y2="1860"/>
<line x1="1035.8" y1="1788" x2="977.8" y2="1668.6"/>
<line x1="387.1" y1="2076.3" x2="433.5" y2="1722"/>
<line x1="387.1" y1="2076.3" x2="433" y2="1761.2"/>
<line x1="387.1" y1="2076.3" x2="484.5" y2="1614.3"/>
<line x1="387.1" y1="2076.3" x2="509.2" y2="1693.2"/>
<line x1="387.1" y1="2076.3" x2="487.8" y2="1860"/>
<line x1="387.1" y1="2076.3" x2="584.4" y2="1833"/>
<line x1="387.1" y1="2076.3" x2="646.8" y2="1812.2"/>
<line x1="387.1" y1="2076.3" x2="603.4" y2="1874"/>
<line x1="387.1" y1="2076.3" x2="217" y2="2023.5"/>
<line x1="217" y1="2023.5" x2="73.7" y2="2058.3"/>
<line x1="217" y1="2023.5" x2="165.4" y2="2146.5"/>
<line x1="73.7" y1="2058.3" x2="165.4" y2="2146.5"/>
<line x1="687.3" y1="2033.7" x2="594.3" y2="2087.3"/>
<line x1="687.3" y1="2033.7" x2="549.6" y2="1728.6"/>
<line x1="790" y1="2166.1" x2="646.8" y2="1812.2"/>
<line x1="790" y1="2166.1" x2="658.9" y2="1728.7"/>
<line x1="790" y1="2166.1" x2="706.5" y2="2231.4"/>
<line x1="790" y1="2166.1" x2="734" y2="2299.2"/>
<line x1="790" y1="2166.1" x2="856.8" y2="2308.1"/>
<line x1="972.1" y1="2108.2" x2="487.8" y2="1860"/>
<line x1="972.1" y1="2108.2" x2="584.4" y2="1833"/>
<line x1="972.1" y1="2108.2" x2="433.5" y2="1722"/>
<line x1="972.1" y1="2108.2" x2="581.8" y2="1655.2"/>
<line x1="972.1" y1="2108.2" x2="1061" y2="2125.2"/>
<line x1="972.1" y1="2108.2" x2="955" y2="2201.7"/>
<line x1="972.1" y1="2108.2" x2="1045.2" y2="2191"/>
<line x1="972.1" y1="2108.2" x2="1436.3" y2="2020"/>
<line x1="955" y1="2201.7" x2="1061" y2="2125.2"/>
<line x1="955" y1="2201.7" x2="1045.2" y2="2191"/>
<line x1="955" y1="2201.7" x2="584.4" y2="1833"/>
<line x1="1061" y1="2125.2" x2="1045.2" y2="2191"/>
<line x1="1059.3" y1="1989.2" x2="1058.5" y2="1872.7"/>
<line x1="1059.3" y1="1989.2" x2="646.8" y2="1812.2"/>
<line x1="1059.3" y1="1989.2" x2="493.5" y2="1797.1"/>
<line x1="1058.5" y1="1872.7" x2="1132.9" y2="1845"/>
<line x1="1058.5" y1="1872.7" x2="1436.3" y2="2020"/>
<line x1="1132.9" y1="1845" x2="1316.2" y2="1714.6"/>
<line x1="1183.4" y1="1962.4" x2="907.3" y2="1884.6"/>
<line x1="1183.4" y1="1962.4" x2="1402" y2="1922.2"/>
<line x1="1183.4" y1="1962.4" x2="1290.1" y2="1781.6"/>
<line x1="1183.4" y1="1962.4" x2="1217.4" y2="2108.3"/>
<line x1="1217.4" y1="2108.3" x2="1161" y2="2230.1"/>
<line x1="1316.2" y1="1714.6" x2="1292.4" y2="1526"/>
<line x1="1316.2" y1="1714.6" x2="1442" y2="1791.3"/>
<line x1="1292.4" y1="1526" x2="1196.7" y2="1568.3"/>
<line x1="1292.4" y1="1526" x2="1257.6" y2="1624.6"/>
<line x1="1196.7" y1="1568.3" x2="1257.6" y2="1624.6"/>
<line x1="1131.7" y1="1735.2" x2="1115.4" y2="1676.3"/>
<line x1="1131.7" y1="1735.2" x2="1368" y2="1849.6"/>
<line x1="1442" y1="1791.3" x2="1368" y2="1849.6"/>
<line x1="1442" y1="1791.3" x2="1516.4" y2="1875"/>
<line x1="1368" y1="1849.6" x2="1402" y2="1922.2"/>
<line x1="1402" y1="1922.2" x2="1516.4" y2="1875"/>
<line x1="1402" y1="1922.2" x2="1625.5" y2="1913.6"/>
<line x1="1402" y1="1922.2" x2="1318.2" y2="1999.5"/>
<line x1="1402" y1="1922.2" x2="1436.3" y2="2020"/>
<line x1="1436.3" y1="2020" x2="1500.8" y2="1959.8"/>
<line x1="1318.2" y1="1999.5" x2="1367.9" y2="2138.4"/>
<line x1="1367.9" y1="2138.4" x2="1430" y2="2197.6"/>
<line x1="1531.6" y1="1743" x2="1584.3" y2="1779"/>
<line x1="1584.3" y1="1779" x2="1625.5" y2="1857.6"/>
<line x1="1149.1" y1="1266" x2="1089.3" y2="1311.2"/>
<line x1="1089.3" y1="1311.2" x2="1029" y2="1357.1"/>
<line x1="1029" y1="1357.1" x2="958" y2="1329.8"/>
<line x1="1029" y1="1357.1" x2="1031.9" y2="1432"/>
<line x1="1215.8" y1="1336.2" x2="1207.1" y2="1408.7"/>
<line x1="1320.9" y1="1344.3" x2="1319.7" y2="1411.1"/>
<line x1="1425.3" y1="1341.4" x2="1426.5" y2="1416.9"/>
<line x1="1528.1" y1="1342" x2="1528.1" y2="1416.3"/>
<line x1="1623.3" y1="1346.1" x2="1629" y2="1415.7"/>
<line x1="491" y1="2094.9" x2="542.6" y2="2133.2"/>
<line x1="491" y1="2094.9" x2="457.3" y2="2148.3"/>
<line x1="491" y1="2094.9" x2="504.3" y2="2186"/>
<line x1="457.3" y1="2148.3" x2="542.6" y2="2133.2"/>
<line x1="457.3" y1="2148.3" x2="504.3" y2="2186"/>
<line x1="542.6" y1="2133.2" x2="504.3" y2="2186"/>
<line x1="504.3" y1="2186" x2="512.4" y2="2259.7"/>
<line x1="734" y1="2299.2" x2="876.3" y2="2383.3"/>
<line x1="734" y1="2299.2" x2="820" y2="2434.4"/>
<line x1="856.8" y1="2308.1" x2="876.3" y2="2383.3"/>
<line x1="876.3" y1="2383.3" x2="820" y2="2434.4"/>
<line x1="876.3" y1="2383.3" x2="908.8" y2="2463.4"/>
</g>
<ellipse cx="1149.1" cy="1266" rx="34.75" ry="12.0" fill="#c8e0ec"/>
<ellipse cx="1089.3" cy="1311.2" rx="34.75" ry="12.0" fill="#c2dcea"/>
<ellipse cx="1029" cy="1357.1" rx="34.75" ry="12.0" fill="#f9dedd"/>
<ellipse cx="958" cy="1329.8" rx="34.75" ry="12.0" fill="#c8e0ec"/>
<ellipse cx="1031.9" cy="1432" rx="34.75" ry="12.0" fill="#b8d8e8"/>
<ellipse cx="1215.8" cy="1336.2" rx="34.75" ry="12.0" fill="#a8d0e6"/>
<ellipse cx="1207.1" cy="1408.7" rx="34.75" ry="12.0" fill="#5cb0d6"/>
<ellipse cx="1320.9" cy="1344.3" rx="34.75" ry="12.0" fill="#b0d4e8"/>
<ellipse cx="1319.7" cy="1411.1" rx="34.75" ry="12.0" fill="#a8d0e6"/>
<ellipse cx="1425.3" cy="1341.4" rx="34.75" ry="12.0" fill="#c0dcea"/>
<ellipse cx="1426.5" cy="1416.9" rx="34.75" ry="12.0" fill="#a8d0e6"/>
<ellipse cx="1528.1" cy="1342" rx="34.75" ry="12.0" fill="#b5d6e8"/>
<ellipse cx="1528.1" cy="1416.3" rx="34.75" ry="12.0" fill="#f8d0c8"/>
<ellipse cx="1623.3" cy="1346.1" rx="34.75" ry="12.0" fill="#f9e2e0"/>
<ellipse cx="1629" cy="1415.7" rx="34.75" ry="12.0" fill="#c5deeb"/>
<ellipse cx="496.2" cy="1414" rx="34.75" ry="12.0" fill="#f9dcd8"/>
<ellipse cx="422.1" cy="1455.7" rx="34.75" ry="12.0" fill="#f8d6d2"/>
<ellipse cx="542.1" cy="1463.9" rx="34.75" ry="12.0" fill="#8fc6e3"/>
<ellipse cx="660" cy="1482.5" rx="34.75" ry="12.0" fill="#c0dcea"/>
<ellipse cx="785.8" cy="1489.4" rx="34.75" ry="12.0" fill="#c0dcea"/>
<ellipse cx="921.6" cy="1488.8" rx="34.75" ry="12.0" fill="#90c5e0"/>
<ellipse cx="273.2" cy="1531.1" rx="34.75" ry="12.0" fill="#c0dcea"/>
<ellipse cx="540.4" cy="1533.6" rx="34.75" ry="12.0" fill="#f8d4d0"/>
<ellipse cx="135.5" cy="1562.5" rx="34.75" ry="12.0" fill="#b8d8e8"/>
<ellipse cx="704.3" cy="1582.9" rx="34.75" ry="12.0" fill="#c8e0ec"/>
<ellipse cx="484.5" cy="1614.3" rx="34.75" ry="12.0" fill="#fae6e4"/>
<ellipse cx="426.8" cy="1658.7" rx="34.75" ry="12.0" fill="#8fc4e0"/>
<ellipse cx="581.8" cy="1655.2" rx="34.75" ry="12.0" fill="#fae8e6"/>
<ellipse cx="216.5" cy="1695" rx="34.75" ry="12.0" fill="#b8d8ea"/>
<ellipse cx="509.2" cy="1693.2" rx="34.75" ry="12.0" fill="#f9dedb"/>
<ellipse cx="433.5" cy="1722" rx="34.75" ry="12.0" fill="#fbe8e6"/>
<ellipse cx="549.6" cy="1728.6" rx="34.75" ry="12.0" fill="#fae2df"/>
<ellipse cx="658.9" cy="1728.7" rx="34.75" ry="12.0" fill="#f7cbc5"/>
<ellipse cx="433" cy="1761.2" rx="34.75" ry="12.0" fill="#fbe8e6"/>
<ellipse cx="592.9" cy="1774.8" rx="34.75" ry="12.0" fill="#f7c8c2"/>
<ellipse cx="493.5" cy="1797.1" rx="34.75" ry="12.0" fill="#f9e2df"/>
<ellipse cx="646.8" cy="1812.2" rx="34.75" ry="12.0" fill="#f7d0ca"/>
<ellipse cx="584.4" cy="1833" rx="34.75" ry="12.0" fill="#f9dcd8"/>
<ellipse cx="296" cy="1840.5" rx="34.75" ry="12.0" fill="#c5deeb"/>
<ellipse cx="487.8" cy="1860" rx="34.75" ry="12.0" fill="#f9dcd8"/>
<ellipse cx="603.4" cy="1874" rx="34.75" ry="12.0" fill="#fbe6e4"/>
<ellipse cx="113.2" cy="1892.9" rx="34.75" ry="12.0" fill="#f9e0dc"/>
<ellipse cx="876.1" cy="1840.6" rx="34.75" ry="12.0" fill="#f9e3e1"/>
<ellipse cx="907.3" cy="1884.6" rx="34.75" ry="12.0" fill="#c5dfea"/>
<ellipse cx="977.8" cy="1668.6" rx="34.75" ry="12.0" fill="#c0dcea"/>
<ellipse cx="1115.4" cy="1676.3" rx="34.75" ry="12.0" fill="#f9dedb"/>
<ellipse cx="1131.7" cy="1735.2" rx="34.75" ry="12.0" fill="#6ab6da"/>
<ellipse cx="1316.2" cy="1714.6" rx="34.75" ry="12.0" fill="#c2dcea"/>
<ellipse cx="1035.8" cy="1788" rx="34.75" ry="12.0" fill="#f8d4d0"/>
<ellipse cx="1290.1" cy="1781.6" rx="34.75" ry="12.0" fill="#f9dcd8"/>
<ellipse cx="1132.9" cy="1845" rx="34.75" ry="12.0" fill="#f9dcd8"/>
<ellipse cx="1058.5" cy="1872.7" rx="34.75" ry="12.0" fill="#fae6e4"/>
<ellipse cx="1183.4" cy="1962.4" rx="34.75" ry="12.0" fill="#fae6e4"/>
<ellipse cx="1059.3" cy="1989.2" rx="34.75" ry="12.0" fill="#fae2df"/>
<ellipse cx="1292.4" cy="1526" rx="34.75" ry="12.0" fill="#a8d0e6"/>
<ellipse cx="1196.7" cy="1568.3" rx="34.75" ry="12.0" fill="#b8d8e8"/>
<ellipse cx="1258.2" cy="1576.5" rx="34.75" ry="12.0" fill="#b8d8e8"/>
<ellipse cx="1257.6" cy="1624.6" rx="34.75" ry="12.0" fill="#b8d8e8"/>
<ellipse cx="1531.6" cy="1743" rx="34.75" ry="12.0" fill="#f8d6d2"/>
<ellipse cx="1584.3" cy="1779" rx="34.75" ry="12.0" fill="#fae2df"/>
<ellipse cx="1442" cy="1791.3" rx="34.75" ry="12.0" fill="#a0cce4"/>
<ellipse cx="1368" cy="1849.6" rx="34.75" ry="12.0" fill="#90c5e0"/>
<ellipse cx="1516.4" cy="1875" rx="34.75" ry="12.0" fill="#4aa8d4"/>
<ellipse cx="1625.5" cy="1857.6" rx="34.75" ry="12.0" fill="#c8e0ec"/>
<ellipse cx="1625.5" cy="1913.6" rx="34.75" ry="12.0" fill="#1890c8"/>
<ellipse cx="1402" cy="1922.2" rx="34.75" ry="12.0" fill="#fae0dc"/>
<ellipse cx="1500.8" cy="1959.8" rx="34.75" ry="12.0" fill="#70b8dc"/>
<ellipse cx="1318.2" cy="1999.5" rx="34.75" ry="12.0" fill="#f5a8a0"/>
<ellipse cx="1436.3" cy="2020" rx="34.75" ry="12.0" fill="#fae2df"/>
<ellipse cx="1217.4" cy="2108.3" rx="34.75" ry="12.0" fill="#f4aca2"/>
<ellipse cx="1367.9" cy="2138.4" rx="34.75" ry="12.0" fill="#f9dcd8"/>
<ellipse cx="1430" cy="2197.6" rx="34.75" ry="12.0" fill="#fae6e4"/>
<ellipse cx="1161" cy="2230.1" rx="34.75" ry="12.0" fill="#c8e0ec"/>
<ellipse cx="972.1" cy="2108.2" rx="34.75" ry="12.0" fill="#c0dcea"/>
<ellipse cx="1061" cy="2125.2" rx="34.75" ry="12.0" fill="#a8d0e6"/>
<ellipse cx="955" cy="2201.7" rx="34.75" ry="12.0" fill="#a8d0e6"/>
<ellipse cx="1045.2" cy="2191" rx="34.75" ry="12.0" fill="#90c5e0"/>
<ellipse cx="217" cy="2023.5" rx="34.75" ry="12.0" fill="#c8e0ec"/>
<ellipse cx="73.7" cy="2058.3" rx="34.75" ry="12.0" fill="#1aa0cc"/>
<ellipse cx="165.4" cy="2146.5" rx="34.75" ry="12.0" fill="#80c0de"/>
<ellipse cx="387.1" cy="2076.3" rx="34.75" ry="12.0" fill="#b8d8e8"/>
<ellipse cx="687.3" cy="2033.7" rx="34.75" ry="12.0" fill="#c5deeb"/>
<ellipse cx="594.3" cy="2087.3" rx="34.75" ry="12.0" fill="#a8d0e6"/>
<ellipse cx="491" cy="2094.9" rx="34.75" ry="12.0" fill="#c5deeb"/>
<ellipse cx="542.6" cy="2133.2" rx="34.75" ry="12.0" fill="#a8d0e6"/>
<ellipse cx="457.3" cy="2148.3" rx="34.75" ry="12.0" fill="#c8e0ec"/>
<ellipse cx="504.3" cy="2186" rx="34.75" ry="12.0" fill="#7abcdc"/>
<ellipse cx="512.4" cy="2259.7" rx="34.75" ry="12.0" fill="#c5deeb"/>
<ellipse cx="790" cy="2166.1" rx="34.75" ry="12.0" fill="#b0d4e8"/>
<ellipse cx="706.5" cy="2231.4" rx="34.75" ry="12.0" fill="#c0dcea"/>
<ellipse cx="734" cy="2299.2" rx="34.75" ry="12.0" fill="#f9e0dc"/>
<ellipse cx="856.8" cy="2308.1" rx="34.75" ry="12.0" fill="#f0958d"/>
<ellipse cx="876.3" cy="2383.3" rx="34.75" ry="12.0" fill="#b0d4e8"/>
<ellipse cx="820" cy="2434.4" rx="34.75" ry="12.0" fill="#c0dcea"/>
<ellipse cx="908.8" cy="2463.4" rx="34.75" ry="12.0" fill="#f5b4ac"/>
<rect x="1216.4" y="1558.5" width="85.9" height="36" fill="#b597cf"/>
<ellipse cx="1258.2" cy="1576.5" rx="34.75" ry="12.0" fill="#b8d8e8"/>
<g font-family="'DejaVu Sans', 'Liberation Sans', sans-serif" font-size="16.2" text-anchor="middle" fill="#000" stroke="#000" stroke-width="0.3">
<text x="1149.1" y="1271.8">hit</text>
<text x="1089.3" y="1317.0">AOM17312.1</text>
<text x="1029" y="1362.9">smc_3</text>
<text x="958" y="1335.6">pstB2</text>
<text x="1031.9" y="1437.8">AOM15188.1</text>
<text x="1215.8" y="1342.0">catE</text>
<text x="1207.1" y="1414.5">manA</text>
<text x="1320.9" y="1350.1">gsiA_2</text>
<text x="1319.7" y="1416.9">gsiA_1</text>
<text x="1425.3" y="1347.2">AOM16650.1</text>
<text x="1426.5" y="1422.7">AOM16651.1</text>
<text x="1528.1" y="1347.8">tmpC_2</text>
<text x="1528.1" y="1422.1">yufO_1</text>
<text x="1623.3" y="1351.9">GapA</text>
<text x="1629" y="1421.5">gpmA-2</text>
<text x="496.2" y="1419.8">typA_1</text>
<text x="422.1" y="1461.5">prfC_1</text>
<text x="542.1" y="1469.7">ybaK_1</text>
<text x="660" y="1488.3">gatC</text>
<text x="785.8" y="1495.2">cysS_1</text>
<text x="921.6" y="1494.6">mrnC</text>
<text x="273.2" y="1536.9">def</text>
<text x="540.4" y="1539.4">infB</text>
<text x="135.5" y="1568.3">GatB2</text>
<text x="704.3" y="1588.7">gltX</text>
<text x="484.5" y="1620.1">rplU</text>
<text x="426.8" y="1664.5">rpsU</text>
<text x="581.8" y="1661.0">rplP</text>
<text x="216.5" y="1700.8">frr_1</text>
<text x="509.2" y="1699.0">rplD</text>
<text x="433.5" y="1727.8">rplC</text>
<text x="549.6" y="1734.4">rplE</text>
<text x="658.9" y="1734.5">rpsM</text>
<text x="433" y="1767.0">rpsP</text>
<text x="592.9" y="1780.6">rpsS</text>
<text x="493.5" y="1802.9">rpsR</text>
<text x="646.8" y="1818.0">rpsL_2</text>
<text x="584.4" y="1838.8">rpsB</text>
<text x="296" y="1846.3">PavA</text>
<text x="487.8" y="1865.8">rplJ</text>
<text x="603.4" y="1879.8">rpsG_2</text>
<text x="113.2" y="1898.7">mutS2</text>
<text x="876.1" y="1846.4">nusA</text>
<text x="907.3" y="1890.4">rpoD_1</text>
<text x="977.8" y="1674.4">AOM17577.1</text>
<text x="1115.4" y="1682.1">AOM15604.1</text>
<text x="1131.7" y="1741.0">yozE</text>
<text x="1316.2" y="1720.4">AOM15622.1</text>
<text x="1035.8" y="1793.8">yqeH</text>
<text x="1290.1" y="1787.4">yajC</text>
<text x="1132.9" y="1850.8">parC</text>
<text x="1058.5" y="1878.5">gyrB-2</text>
<text x="1183.4" y="1968.2">secA_2</text>
<text x="1059.3" y="1995.0">gyrA</text>
<text x="1292.4" y="1531.8">metB</text>
<text x="1196.7" y="1574.1">cysM</text>
<text x="1258.2" y="1582.3">thyA</text>
<text x="1257.6" y="1630.4">luxS</text>
<text x="1531.6" y="1748.8">rnjB</text>
<text x="1584.3" y="1784.8">rnjA</text>
<text x="1442" y="1797.1">msrB</text>
<text x="1368" y="1855.4">msrA</text>
<text x="1516.4" y="1880.8">msrA-3</text>
<text x="1625.5" y="1863.4">AOM15046.1</text>
<text x="1625.5" y="1919.4">AOM17478.1</text>
<text x="1402" y="1928.0">polA</text>
<text x="1500.8" y="1965.6">lexA_3</text>
<text x="1318.2" y="2005.3">uvrA_1</text>
<text x="1436.3" y="2025.8">recA</text>
<text x="1217.4" y="2114.1">engA</text>
<text x="1367.9" y="2144.2">CarB2</text>
<text x="1430" y="2203.4">asnB</text>
<text x="1161" y="2235.9">hupA</text>
<text x="972.1" y="2114.0">dnaK</text>
<text x="1061" y="2131.0">groES</text>
<text x="955" y="2207.5">groEL</text>
<text x="1045.2" y="2196.8">grpE</text>
<text x="217" y="2029.3">nrdF</text>
<text x="73.7" y="2064.1">nrdH</text>
<text x="165.4" y="2152.3">nrdI</text>
<text x="387.1" y="2082.1">ndk</text>
<text x="687.3" y="2039.5">cah</text>
<text x="594.3" y="2093.1">yfbR</text>
<text x="491" y="2100.7">pyrC_1</text>
<text x="542.6" y="2139.0">pyrK</text>
<text x="457.3" y="2154.1">pyrE</text>
<text x="504.3" y="2191.8">pyrF</text>
<text x="512.4" y="2265.5">upp_1</text>
<text x="790" y="2171.9">rsgA</text>
<text x="706.5" y="2237.2">Rpe</text>
<text x="734" y="2305.0">pknB</text>
<text x="856.8" y="2313.9">mreC</text>
<text x="876.3" y="2389.1">gpsB</text>
<text x="820" y="2440.2">DivIVA</text>
<text x="908.8" y="2469.2">ponA</text>
</g>
<rect x="13.1" y="1760.7" width="372.6" height="40.5" fill="#676767"/>
<text transform="translate(199.75,1793.3) scale(1,1.04)" font-family="'Liberation Sans', Arial, sans-serif" font-weight="bold" font-size="34.1" fill="#f89898" text-anchor="middle">efu03010~Ribosome</text>
<text x="59.2" y="2393.7" font-family="'DejaVu Sans', 'Liberation Sans', sans-serif" font-size="13.3">Node Fill Color:</text>
<text x="172.3" y="2393.7" font-family="'DejaVu Sans', 'Liberation Sans', sans-serif" font-size="13.3">log2fc</text>
<rect x="59.2" y="2400.7" width="345.3" height="68.5" fill="url(#nfc)" stroke="#000" stroke-width="1"/>
<line x1="59.2" y1="2469.2" x2="59.2" y2="2476" stroke="#000" stroke-width="1.2"/>
<text x="59.2" y="2492.6" font-family="'DejaVu Sans', 'Liberation Sans', sans-serif" font-size="14.3" text-anchor="middle">–6.0</text>
<line x1="145.5" y1="2469.2" x2="145.5" y2="2476" stroke="#000" stroke-width="1.2"/>
<text x="145.5" y="2492.6" font-family="'DejaVu Sans', 'Liberation Sans', sans-serif" font-size="14.3" text-anchor="middle">–2.9</text>
<line x1="231.9" y1="2469.2" x2="231.9" y2="2476" stroke="#000" stroke-width="1.2"/>
<text x="231.9" y="2492.6" font-family="'DejaVu Sans', 'Liberation Sans', sans-serif" font-size="14.3" text-anchor="middle">0.2</text>
<line x1="318.2" y1="2469.2" x2="318.2" y2="2476" stroke="#000" stroke-width="1.2"/>
<text x="318.2" y="2492.6" font-family="'DejaVu Sans', 'Liberation Sans', sans-serif" font-size="14.3" text-anchor="middle">3.2</text>
<line x1="404.5" y1="2469.2" x2="404.5" y2="2476" stroke="#000" stroke-width="1.2"/>
<text x="404.5" y="2492.6" font-family="'DejaVu Sans', 'Liberation Sans', sans-serif" font-size="14.3" text-anchor="middle">6.3</text>
</svg></body></html>
